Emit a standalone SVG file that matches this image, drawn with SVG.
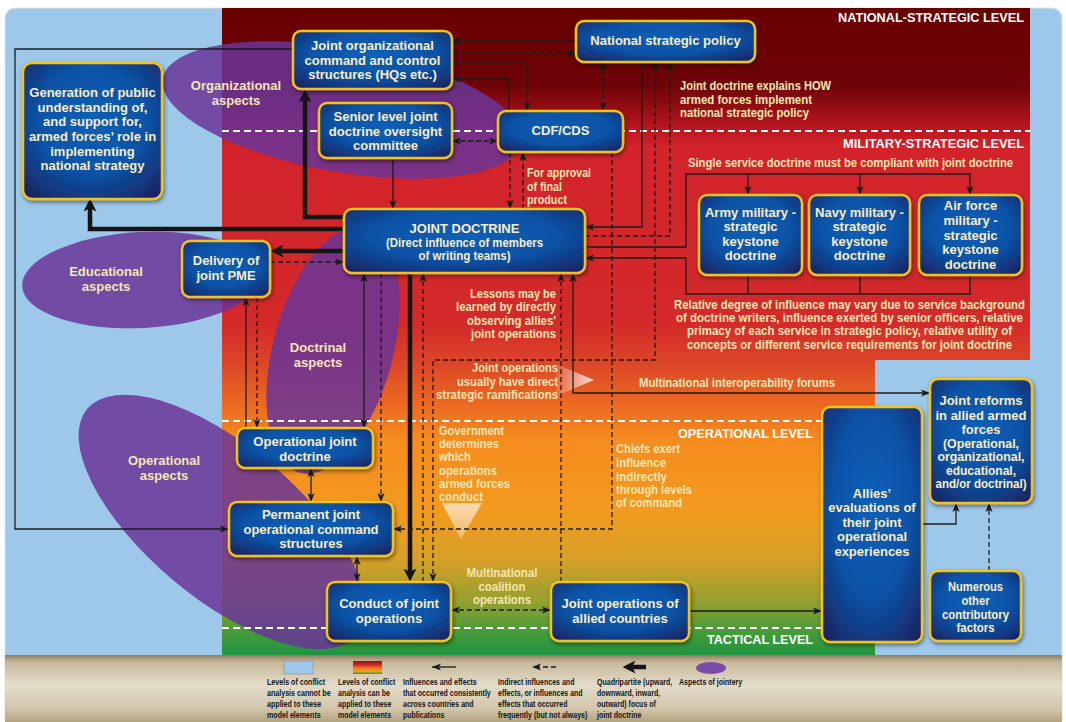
<svg xmlns="http://www.w3.org/2000/svg" width="1066" height="722" viewBox="0 0 1066 722">
<defs>
<linearGradient id="lv" gradientUnits="userSpaceOnUse" x1="0" y1="8" x2="0" y2="655">
<stop offset="0" stop-color="#680000"/>
<stop offset="0.12" stop-color="#6e0407"/>
<stop offset="0.185" stop-color="#b8161e"/>
<stop offset="0.215" stop-color="#d2232a"/>
<stop offset="0.49" stop-color="#d42a2a"/>
<stop offset="0.55" stop-color="#dc4628"/>
<stop offset="0.61" stop-color="#eb6822"/>
<stop offset="0.668" stop-color="#f68c1e"/>
<stop offset="0.776" stop-color="#f39a20"/>
<stop offset="0.853" stop-color="#d6a028"/>
<stop offset="0.915" stop-color="#98a030"/>
<stop offset="0.961" stop-color="#4a9c38"/>
<stop offset="1" stop-color="#1f9440"/>
</linearGradient>
<radialGradient id="bx" cx="50%" cy="42%" r="72%">
<stop offset="0" stop-color="#0a60b9"/>
<stop offset="0.55" stop-color="#0a52a6"/>
<stop offset="1" stop-color="#1b2461"/>
</radialGradient>
<linearGradient id="leg" x1="0" y1="0" x2="0" y2="1">
<stop offset="0" stop-color="#8f7a5e"/>
<stop offset="0.1" stop-color="#c5b697"/>
<stop offset="0.45" stop-color="#e4dccb"/>
<stop offset="0.8" stop-color="#d2c6aa"/>
<stop offset="1" stop-color="#b3a27f"/>
</linearGradient>
<linearGradient id="sw" x1="0" y1="0" x2="0" y2="1">
<stop offset="0" stop-color="#8e0e12"/>
<stop offset="0.3" stop-color="#d42a2a"/>
<stop offset="0.55" stop-color="#f07820"/>
<stop offset="0.78" stop-color="#f2a81e"/>
<stop offset="1" stop-color="#2f9a3c"/>
</linearGradient>
<linearGradient id="trR" x1="0" y1="0" x2="1" y2="0">
<stop offset="0" stop-color="#fff" stop-opacity="0.1"/>
<stop offset="1" stop-color="#fff" stop-opacity="0.8"/>
</linearGradient>
<linearGradient id="trD" x1="0" y1="0" x2="0" y2="1">
<stop offset="0" stop-color="#fff" stop-opacity="0.65"/>
<stop offset="1" stop-color="#fff" stop-opacity="0.3"/>
</linearGradient>
<filter id="sh" x="-20%" y="-20%" width="140%" height="140%">
<feDropShadow dx="1" dy="2" stdDeviation="2" flood-color="#000" flood-opacity="0.5"/>
</filter>
<marker id="a" viewBox="0 0 10 8" refX="10" refY="4" markerWidth="9" markerHeight="7.2" orient="auto-start-reverse" markerUnits="userSpaceOnUse">
<path d="M0,0 L10,4 L0,8 L2.5,4 z" fill="#1b1b1b"/>
</marker>
<marker id="t" viewBox="0 0 10 10" refX="5" refY="5" markerWidth="13" markerHeight="13" orient="auto-start-reverse" markerUnits="userSpaceOnUse">
<path d="M0,0 L10,5 L0,10 L2.5,5 z" fill="#151515"/>
</marker>
<style>
.s{fill:none;stroke:#1c1c1c;stroke-width:1.3}
.d{fill:none;stroke:#1c1c1c;stroke-width:1.3;stroke-dasharray:5 3}
.t{fill:none;stroke:#151515;stroke-width:4.5}
.e{marker-end:url(#a)}
.b{marker-start:url(#a);marker-end:url(#a)}
.te{marker-end:url(#t)}
.box{fill:url(#bx);stroke:#f1c31a;stroke-width:2.5;filter:url(#sh)}
text{font-family:'Liberation Sans',Arial,Helvetica,sans-serif;font-weight:bold}
.bt{font-size:13px;fill:#f8eec8;text-anchor:middle}
.bc{font-size:12.5px;fill:#f8eec8;text-anchor:middle}
.an{font-size:12.5px;fill:#f6e6b2}
.lvl{font-size:12.5px;fill:#fff;text-anchor:end}
.el{font-size:13px;fill:#f4e6b6;text-anchor:middle}
.lg{font-size:9.5px;fill:#151515}
.lvline{stroke:#fff;stroke-width:2;stroke-dasharray:7 4;fill:none}
.asp{fill:#6a3598;fill-opacity:0.85}
</style>
</defs>

<rect x="0" y="0" width="1066" height="722" fill="#ffffff"/>
<rect x="5" y="8" width="1057" height="720" rx="10" fill="#9dc8ea" stroke="#e2e2e2" stroke-width="1"/>
<path d="M222,8 H1030 V360 H875 V655 H222 Z" fill="url(#lv)"/>

<g id="aspects">
<ellipse class="asp" cx="342" cy="110" rx="182" ry="62" transform="rotate(10 342 110)"/>
<ellipse class="asp" cx="142" cy="280" rx="120" ry="48" transform="rotate(-3 142 280)"/>
<ellipse class="asp" cx="333" cy="350" rx="60" ry="127" transform="rotate(15 333 350)"/>
<ellipse class="asp" cx="222" cy="522" rx="176" ry="76" transform="rotate(40 222 522)"/>
<text class="el" x="236" y="90">Organizational</text>
<text class="el" x="236" y="104.5">aspects</text>
<text class="el" x="106" y="276">Educational</text>
<text class="el" x="106" y="291">aspects</text>
<text class="el" x="318" y="352">Doctrinal</text>
<text class="el" x="318" y="367">aspects</text>
<text class="el" x="164" y="465">Operational</text>
<text class="el" x="164" y="479.5">aspects</text>
</g>

<g id="levels">
<path class="lvline" d="M222,131 H1030 M222,421 H875 M222,628 H875"/>
<text class="lvl" x="1024" y="21.5" textLength="186" lengthAdjust="spacingAndGlyphs">NATIONAL-STRATEGIC LEVEL</text>
<text class="lvl" x="1024" y="147.5" textLength="181" lengthAdjust="spacingAndGlyphs">MILITARY-STRATEGIC LEVEL</text>
<text class="lvl" x="813" y="437.5" textLength="135" lengthAdjust="spacingAndGlyphs">OPERATIONAL LEVEL</text>
<text class="lvl" x="813" y="643.5" textLength="106" lengthAdjust="spacingAndGlyphs">TACTICAL LEVEL</text>
</g>

<g id="annotations">
<text class="an" x="680" y="90" textLength="151" lengthAdjust="spacingAndGlyphs">Joint doctrine explains HOW</text>
<text class="an" x="680" y="103.5" textLength="132" lengthAdjust="spacingAndGlyphs">armed forces implement</text>
<text class="an" x="680" y="117" textLength="129" lengthAdjust="spacingAndGlyphs">national strategic policy</text>
<text class="an" x="688" y="167" textLength="325" lengthAdjust="spacingAndGlyphs">Single service doctrine must be compliant with joint doctrine</text>
<text class="an" x="674" y="309" textLength="351" lengthAdjust="spacingAndGlyphs">Relative degree of influence may vary due to service background</text>
<text class="an" x="676" y="322" textLength="347" lengthAdjust="spacingAndGlyphs">of doctrine writers, influence exerted by senior officers, relative</text>
<text class="an" x="687" y="335" textLength="325" lengthAdjust="spacingAndGlyphs">primacy of each service in strategic policy, relative utility of</text>
<text class="an" x="687" y="348.5" textLength="325" lengthAdjust="spacingAndGlyphs">concepts or different service requirements for joint doctrine</text>
<text class="an" x="527" y="177" textLength="64" lengthAdjust="spacingAndGlyphs">For approval</text>
<text class="an" x="527" y="191" textLength="35" lengthAdjust="spacingAndGlyphs">of final</text>
<text class="an" x="527" y="204" textLength="40" lengthAdjust="spacingAndGlyphs">product</text>
<text class="an" x="556" y="298" text-anchor="end" textLength="86" lengthAdjust="spacingAndGlyphs">Lessons may be</text>
<text class="an" x="556" y="311" text-anchor="end" textLength="100" lengthAdjust="spacingAndGlyphs">learned by directly</text>
<text class="an" x="556" y="325" text-anchor="end" textLength="89" lengthAdjust="spacingAndGlyphs">observing allies'</text>
<text class="an" x="556" y="338" text-anchor="end" textLength="85" lengthAdjust="spacingAndGlyphs">joint operations</text>
<text class="an" x="558" y="372" text-anchor="end" textLength="86" lengthAdjust="spacingAndGlyphs">Joint operations</text>
<text class="an" x="558" y="386" text-anchor="end" textLength="101" lengthAdjust="spacingAndGlyphs">usually have direct</text>
<text class="an" x="558" y="399" text-anchor="end" textLength="122" lengthAdjust="spacingAndGlyphs">strategic ramifications</text>
<text class="an" x="639" y="387" textLength="196" lengthAdjust="spacingAndGlyphs">Multinational interoperability forums</text>
<text class="an" x="439" y="435" textLength="65" lengthAdjust="spacingAndGlyphs">Government</text>
<text class="an" x="439" y="448" textLength="60" lengthAdjust="spacingAndGlyphs">determines</text>
<text class="an" x="439" y="461" textLength="32" lengthAdjust="spacingAndGlyphs">which</text>
<text class="an" x="439" y="475" textLength="58" lengthAdjust="spacingAndGlyphs">operations</text>
<text class="an" x="439" y="488" textLength="71" lengthAdjust="spacingAndGlyphs">armed forces</text>
<text class="an" x="439" y="501" textLength="44" lengthAdjust="spacingAndGlyphs">conduct</text>
<text class="an" x="616" y="453" textLength="64" lengthAdjust="spacingAndGlyphs">Chiefs exert</text>
<text class="an" x="616" y="467" textLength="50" lengthAdjust="spacingAndGlyphs">influence</text>
<text class="an" x="616" y="481" textLength="51" lengthAdjust="spacingAndGlyphs">indirectly</text>
<text class="an" x="616" y="494" textLength="76" lengthAdjust="spacingAndGlyphs">through levels</text>
<text class="an" x="616" y="507" textLength="66" lengthAdjust="spacingAndGlyphs">of command</text>
<text class="an" x="502" y="577" text-anchor="middle" textLength="71" lengthAdjust="spacingAndGlyphs">Multinational</text>
<text class="an" x="502" y="591" text-anchor="middle" textLength="47" lengthAdjust="spacingAndGlyphs">coalition</text>
<text class="an" x="502" y="604" text-anchor="middle" textLength="58" lengthAdjust="spacingAndGlyphs">operations</text>
<polygon points="556,364 594,380 556,396" fill="url(#trR)"/>
<polygon points="442,503 482,503 461,539" fill="url(#trD)"/>
</g>

<g id="connectors">
<path class="s e" d="M293,49 H15 V529 H229"/>
<path class="t te" d="M344,229 H90 V205"/>
<path class="t te" d="M344,217 H305 V96"/>
<path class="t te" d="M344,251 H277"/>
<path class="t te" d="M410,273 V575"/>
<path class="d e" d="M270,262 H344"/>
<path class="s e" d="M246,428 V297"/>
<path class="d e" d="M257,297 V428"/>
<path class="s b" d="M364,273 V428"/>
<path class="d e" d="M381,273 V502"/>
<path class="s b" d="M311,468 V502"/>
<path class="s b" d="M357,556 V582"/>
<path class="d e" d="M423,582 V273"/>
<path class="d b" d="M433,582 V360 H655 V62"/>
<path class="d e" d="M612,152 V529 H393"/>
<path class="d e" d="M561,582 V273"/>
<path class="s b" d="M573,273 V393 H930"/>
<path class="s e" d="M642,62 V227 H585"/>
<path class="d e" d="M585,236 H670 V62"/>
<path class="s e" d="M585,247 H686 V174 H970 V195"/>
<path class="s e" d="M748,174 V195"/>
<path class="s e" d="M860,174 V195"/>
<path class="s" d="M748,275 V294 M860,275 V294"/>
<path class="s e" d="M970,275 V294 H686 V258 H585"/>
<path class="s e" d="M576,41 H452"/>
<path class="d e" d="M452,53 H576"/>
<path class="d e" d="M452,63 H527 V111"/>
<path class="s e" d="M509,111 V79 H452"/>
<path class="d b" d="M603,62 V111"/>
<path class="d b" d="M452,141 H498"/>
<path class="s e" d="M393,158 V209"/>
<path class="d e" d="M510,152 V209"/>
<path class="d e" d="M523,209 V152"/>
<path class="d b" d="M451,610 H551"/>
<path class="s e" d="M689,611 H822"/>
<path class="s e" d="M922,524 H956 V503"/>
<path class="d e" d="M989,571 V503"/>
</g>

<g id="n-generation">
<rect class="box" x="23" y="63" width="139" height="136" rx="9"/>
<text class="bt"><tspan x="92.5" y="97">Generation of public</tspan><tspan x="92.5" y="111.7">understanding of,</tspan><tspan x="92.5" y="126.2">and support for,</tspan><tspan x="92.5" y="141">armed forces’ role in</tspan><tspan x="92.5" y="155.5">implementing</tspan><tspan x="92.5" y="170">national strategy</tspan></text>
</g>
<g id="n-joint-org">
<rect class="box" x="293" y="31" width="159" height="58" rx="8"/>
<text class="bt"><tspan x="372.5" y="49.5">Joint organizational</tspan><tspan x="372.5" y="64.5">command and control</tspan><tspan x="372.5" y="78.5">structures (HQs etc.)</tspan></text>
</g>
<g id="n-national">
<rect class="box" x="576" y="21" width="179" height="41" rx="8"/>
<text class="bt" x="665.5" y="44.5">National strategic policy</text>
</g>
<g id="n-senior">
<rect class="box" x="319" y="103" width="133" height="55" rx="8"/>
<text class="bt"><tspan x="385.5" y="121">Senior level joint</tspan><tspan x="385.5" y="136">doctrine oversight</tspan><tspan x="385.5" y="150">committee</tspan></text>
</g>
<g id="n-cdf">
<rect class="box" x="498" y="111" width="125" height="41" rx="8"/>
<text class="bt" x="560.5" y="134.5">CDF/CDS</text>
</g>
<g id="n-joint-doctrine">
<rect class="box" x="344" y="209" width="241" height="64" rx="8"/>
<text class="bt" x="464.5" y="233">JOINT DOCTRINE</text>
<text class="bc" x="464.5" y="247" textLength="157" lengthAdjust="spacingAndGlyphs">(Direct influence of members</text>
<text class="bc" x="464.5" y="259.5" textLength="92" lengthAdjust="spacingAndGlyphs">of writing teams)</text>
</g>
<g id="n-pme">
<rect class="box" x="182" y="241" width="88" height="56" rx="8"/>
<text class="bt"><tspan x="226" y="265">Delivery of</tspan><tspan x="226" y="279.5">joint PME</tspan></text>
</g>
<g id="n-army">
<rect class="box" x="699" y="195" width="103" height="80" rx="8"/>
<text class="bt"><tspan x="750.5" y="217">Army military -</tspan><tspan x="750.5" y="231">strategic</tspan><tspan x="750.5" y="246">keystone</tspan><tspan x="750.5" y="260">doctrine</tspan></text>
</g>
<g id="n-navy">
<rect class="box" x="809" y="195" width="101" height="80" rx="8"/>
<text class="bt"><tspan x="859.5" y="217">Navy military -</tspan><tspan x="859.5" y="231">strategic</tspan><tspan x="859.5" y="246">keystone</tspan><tspan x="859.5" y="260">doctrine</tspan></text>
</g>
<g id="n-airforce">
<rect class="box" x="919" y="195" width="103" height="80" rx="8"/>
<text class="bt"><tspan x="970.5" y="210">Air force</tspan><tspan x="970.5" y="225">military -</tspan><tspan x="970.5" y="240">strategic</tspan><tspan x="970.5" y="254">keystone</tspan><tspan x="970.5" y="268.5">doctrine</tspan></text>
</g>
<g id="n-op-joint-doctrine">
<rect class="box" x="237" y="428" width="136" height="40" rx="8"/>
<text class="bt"><tspan x="305" y="446">Operational joint</tspan><tspan x="305" y="461">doctrine</tspan></text>
</g>
<g id="n-permanent">
<rect class="box" x="229" y="502" width="164" height="54" rx="8"/>
<text class="bt"><tspan x="311" y="519">Permanent joint</tspan><tspan x="311" y="534">operational command</tspan><tspan x="311" y="548">structures</tspan></text>
</g>
<g id="n-conduct">
<rect class="box" x="327" y="582" width="124" height="59" rx="8"/>
<text class="bt"><tspan x="389" y="608">Conduct of joint</tspan><tspan x="389" y="623">operations</tspan></text>
</g>
<g id="n-allied-ops">
<rect class="box" x="551" y="582" width="138" height="59" rx="8"/>
<text class="bt"><tspan x="620" y="608">Joint operations of</tspan><tspan x="620" y="623">allied countries</tspan></text>
</g>
<g id="n-evaluations">
<rect class="box" x="822" y="407" width="100" height="235" rx="8"/>
<text class="bt"><tspan x="872" y="497.5">Allies’</tspan><tspan x="872" y="512">evaluations of</tspan><tspan x="872" y="526.5">their joint</tspan><tspan x="872" y="541">operational</tspan><tspan x="872" y="555.5">experiences</tspan></text>
</g>
<g id="n-reforms">
<rect class="box" x="930" y="379" width="102" height="124" rx="8"/>
<text class="bt"><tspan x="981" y="405">Joint reforms</tspan><tspan x="981" y="419.5">in allied armed</tspan><tspan x="981" y="434">forces</tspan></text>
<text class="bc" x="981" y="447.5" textLength="76" lengthAdjust="spacingAndGlyphs">(Operational,</text>
<text class="bc" x="981" y="461" textLength="87" lengthAdjust="spacingAndGlyphs">organizational,</text>
<text class="bc" x="981" y="474.5" textLength="70" lengthAdjust="spacingAndGlyphs">educational,</text>
<text class="bc" x="981" y="488" textLength="91" lengthAdjust="spacingAndGlyphs">and/or doctrinal)</text>
</g>
<g id="n-numerous">
<rect class="box" x="930" y="571" width="91" height="70" rx="8"/>
<text class="bc" x="975.5" y="591" textLength="55" lengthAdjust="spacingAndGlyphs">Numerous</text>
<text class="bc" x="975.5" y="604.5" textLength="28" lengthAdjust="spacingAndGlyphs">other</text>
<text class="bc" x="975.5" y="618.5" textLength="67" lengthAdjust="spacingAndGlyphs">contributory</text>
<text class="bc" x="975.5" y="631.5" textLength="38" lengthAdjust="spacingAndGlyphs">factors</text>
</g>

<g id="legend">
<rect x="5" y="655" width="1057" height="67" fill="url(#leg)"/>
<rect x="284" y="661" width="29" height="13" fill="#9dc8ea" stroke="#8a8a8a" stroke-width="0.6"/>
<rect x="353" y="661" width="29" height="13" fill="url(#sw)"/>
<path class="s e" d="M456,667 H432"/>
<path class="d e" d="M556,667 H532"/>
<path class="t te" d="M646,667 H629"/>
<ellipse cx="711" cy="668" rx="15" ry="6" fill="#7a4aa8"/>
<g transform="translate(267 0) scale(0.75 1)">
<text class="lg" x="0" y="685">Levels of conflict</text>
<text class="lg" x="0" y="696">analysis cannot be</text>
<text class="lg" x="0" y="707">applied to these</text>
<text class="lg" x="0" y="718">model elements</text>
</g>
<g transform="translate(338 0) scale(0.74 1)">
<text class="lg" x="0" y="685">Levels of conflict</text>
<text class="lg" x="0" y="696">analysis can be</text>
<text class="lg" x="0" y="707">applied to these</text>
<text class="lg" x="0" y="718">model elements</text>
</g>
<g transform="translate(403 0) scale(0.74 1)">
<text class="lg" x="0" y="685">Influences and effects</text>
<text class="lg" x="0" y="696">that occurred consistently</text>
<text class="lg" x="0" y="707">across countries and</text>
<text class="lg" x="0" y="718">publications</text>
</g>
<g transform="translate(498 0) scale(0.74 1)">
<text class="lg" x="0" y="685">Indirect influences and</text>
<text class="lg" x="0" y="696">effects, or influences and</text>
<text class="lg" x="0" y="707">effects that occurred</text>
<text class="lg" x="0" y="718">frequently (but not always)</text>
</g>
<g transform="translate(597 0) scale(0.74 1)">
<text class="lg" x="0" y="685">Quadripartite (upward,</text>
<text class="lg" x="0" y="696">downward, inward,</text>
<text class="lg" x="0" y="707">outward) focus of</text>
<text class="lg" x="0" y="718">joint doctrine</text>
</g>
<g transform="translate(679 0) scale(0.74 1)">
<text class="lg" x="0" y="685">Aspects of jointery</text>
</g>
</g>
</svg>
